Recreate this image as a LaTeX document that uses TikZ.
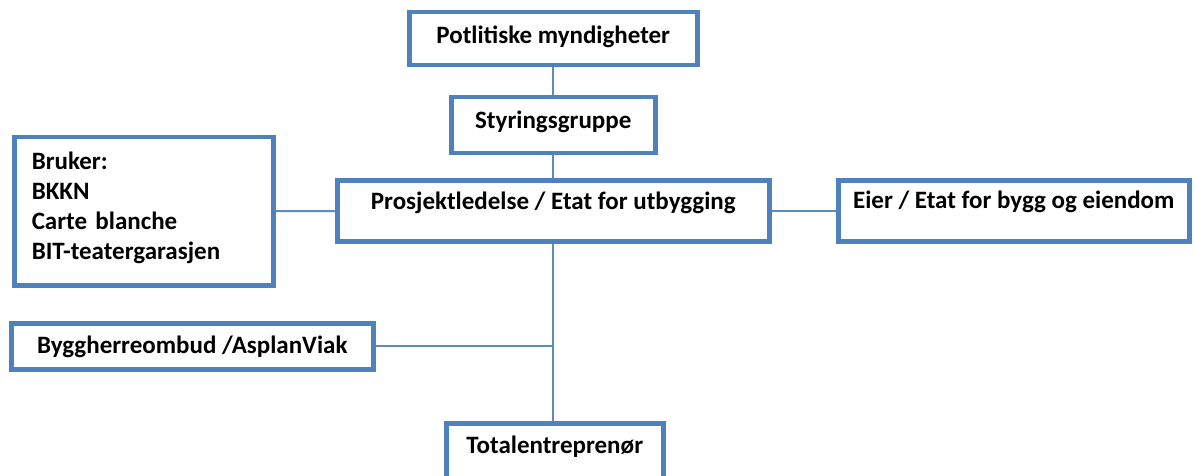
\documentclass[tikz,border=0pt]{standalone}
\usepackage{fontspec}
\setmainfont{Carlito}
\definecolor{orgblue}{RGB}{79,129,189}
\definecolor{linkblue}{RGB}{92,138,196}
\tikzstyle{orgbox}=[draw=orgblue,line width=4.5pt,fill=white,inner sep=0pt,anchor=north west,font=\fontsize{25}{30}\selectfont\bfseries]
\tikzstyle{orglink}=[draw=linkblue,line width=2pt]
\newcommand{\orgnode}[8][]{% [options] name, left, top, right, bottom, baseline, text
\pgfmathsetmacro{\boxw}{#5-#3-5}
\pgfmathsetmacro{\boxht}{#7-#4-2.5}
\pgfmathsetmacro{\boxdp}{#6-#7-2.5}
\node[orgbox,minimum width=\boxw pt,text height=\boxht pt,text depth=\boxdp pt,#1] (#2) at (#3,#4) {#8};
}
\begin{document}
\begin{tikzpicture}[x=1pt,y=-1pt]
	\clip (0,0) rectangle (1194,476);
	\useasboundingbox (0,0) rectangle (1194,476);
	\orgnode{pol}{407}{10}{700}{68}{44}{Potlitiske myndigheter}
	\orgnode{styr}{449}{95}{658}{156}{129}{Styringsgruppe}
	\orgnode[align=left,text width=224pt,inner xsep=17.5pt]{bruker}{12}{135}{276}{288}{170}{Bruker:\\BKKN\\Carte blanche\\BIT-teatergarasjen}
	\orgnode{prosj}{335}{178}{772}{244}{210}{Prosjektledelse / Etat for utbygging}
	\orgnode{eier}{836}{178}{1192}{244}{209}{Eier / Etat for bygg og eiendom}
	\orgnode{bygg}{9}{321}{376}{372}{354}{Byggherreombud /AsplanViak}
	\orgnode{total}{444}{421}{666}{481}{454}{Totalentreprenør}
	\coordinate (jn) at (prosj.south |- bygg.east);
	% links
	\draw[orglink] (pol) -- (styr);
	\draw[orglink] (styr) -- (prosj);
	\draw[orglink] (bruker) -- (prosj);
	\draw[orglink] (prosj) -- (eier);
	\draw[orglink] (prosj.south) -- (jn) -- (jn |- total.north);
	\draw[orglink] (bygg) -- (jn);
\end{tikzpicture}
\end{document}
